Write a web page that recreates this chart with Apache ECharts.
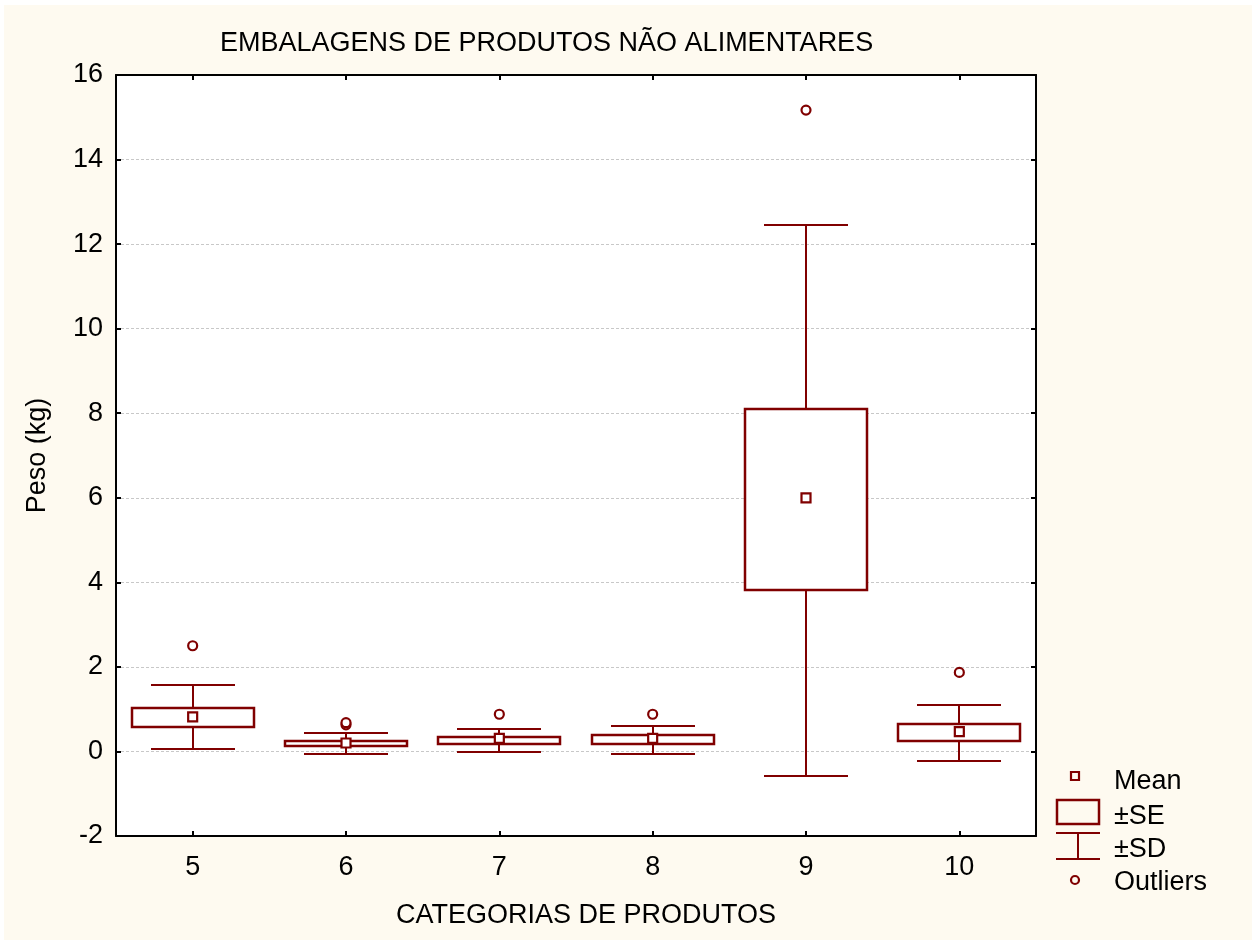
<!DOCTYPE html>
<html>
<head>
<meta charset="utf-8">
<script src="https://cdn.jsdelivr.net/npm/echarts@6/dist/echarts.min.js"></script>
<style>
  html, body { margin: 0; padding: 0; background: #ffffff; }
  #frame { position: absolute; left: 4px; top: 5px; width: 1248px; height: 935px; background: #fefaf0; }
  #chart { position: absolute; left: 0; top: 0; width: 1259px; height: 940px; }
</style>
</head>
<body>
<div id="frame"></div>
<div id="chart"></div>
<script>
// Product categories on the x axis
const categories = ['5', '6', '7', '8', '9', '10'];
// Mean weight per category (kg)
const means  = [0.82, 0.20, 0.31, 0.31, 6.00, 0.47];
// Mean ± standard error
const seLow  = [0.58, 0.13, 0.17, 0.17, 3.81, 0.24];
const seHigh = [1.03, 0.25, 0.34, 0.39, 8.11, 0.64];
// Mean ± standard deviation
const sdLow  = [0.05, -0.07, -0.01, -0.05, -0.57, -0.22];
const sdHigh = [1.57, 0.43, 0.53, 0.61, 12.46, 1.11];
// Outlying observations per category
const outliers = [[2.5], [0.63, 0.68], [0.88], [0.88], [15.17], [1.87]];
// Y axis range and step
const yMin = -2, yMax = 16, yStep = 2;

const RED = '#800000';
const FONT = 'Liberation Sans, Arial, sans-serif';
const FS = 27;

const chart = echarts.init(document.getElementById('chart'), null, { renderer: 'canvas' });

const boxData = categories.map((c, i) => [i, sdLow[i], seLow[i], seHigh[i], sdHigh[i]]);
const meanData = categories.map((c, i) => [i, means[i]]);
const outlierData = [];
outliers.forEach((list, i) => list.forEach(v => outlierData.push([i, v])));

function renderBox(params, api) {
  const idx = api.value(0);
  const cx = Math.round(api.coord([idx, 0])[0]);
  const band = api.size([1, 0])[0];
  const yOf = v => Math.round(api.coord([idx, v])[1]);
  const boxHalf = Math.round(band * 0.395);
  const capHalf = Math.round(band * 0.275);
  const ySdLo = yOf(api.value(1)), ySeLo = yOf(api.value(2));
  const ySeHi = yOf(api.value(3)), ySdHi = yOf(api.value(4));
  const ls = { stroke: RED, lineWidth: 2 };
  return {
    type: 'group',
    children: [
      { type: 'line', shape: { x1: cx, y1: ySdHi, x2: cx, y2: ySeHi }, style: ls },
      { type: 'line', shape: { x1: cx, y1: ySeLo, x2: cx, y2: ySdLo }, style: ls },
      { type: 'line', shape: { x1: cx - capHalf, y1: ySdHi, x2: cx + capHalf, y2: ySdHi }, style: ls },
      { type: 'line', shape: { x1: cx - capHalf, y1: ySdLo, x2: cx + capHalf, y2: ySdLo }, style: ls },
      { type: 'rect', shape: { x: cx - boxHalf, y: ySeHi, width: boxHalf * 2, height: ySeLo - ySeHi },
        style: { stroke: RED, lineWidth: 2.5, fill: '#ffffff' } }
    ]
  };
}

const axisLineStyle = { show: true, onZero: false, lineStyle: { color: '#000', width: 2 } };
const tickStyle = { show: true, inside: true, length: 5, lineStyle: { color: '#000', width: 2 } };

// Legend drawn at fixed positions to the right of the plot
const legendX = 1114;
const legendText = (text, y) => ({
  type: 'text', left: legendX, top: y - 12,
  style: { text: text, fill: '#000', font: FS + 'px ' + FONT }
});

chart.setOption({
  backgroundColor: 'transparent',
  animation: false,
  title: {
    text: 'EMBALAGENS DE PRODUTOS NÃO ALIMENTARES',
    left: 215, top: 25,
    textStyle: { fontFamily: FONT, fontSize: FS, fontWeight: 'normal', color: '#000' }
  },
  grid: {
    left: 116, top: 75, right: 223, bottom: 104,
    show: true, backgroundColor: '#ffffff', borderWidth: 0
  },
  xAxis: [{
    type: 'category', data: categories, position: 'bottom',
    boundaryGap: true,
    axisLine: axisLineStyle,
    axisTick: Object.assign({ alignWithLabel: true }, tickStyle),
    axisLabel: { color: '#000', fontFamily: FONT, fontSize: FS, margin: 18 },
    splitLine: { show: false },
    name: 'CATEGORIAS DE PRODUTOS', nameLocation: 'middle', nameGap: 66,
    nameTextStyle: { color: '#000', fontFamily: FONT, fontSize: FS, padding: [0, 0, 0, 20] }
  }, {
    type: 'category', data: categories, position: 'top',
    boundaryGap: true,
    axisLine: axisLineStyle,
    axisTick: Object.assign({ alignWithLabel: true }, tickStyle),
    axisLabel: { show: false },
    splitLine: { show: false }
  }],
  yAxis: [{
    type: 'value', min: yMin, max: yMax, interval: yStep, position: 'left',
    axisLine: axisLineStyle,
    axisTick: tickStyle,
    axisLabel: { color: '#000', fontFamily: FONT, fontSize: FS, margin: 13 },
    splitLine: { show: true, lineStyle: { color: '#c8c8c8', type: [3, 2], width: 1 } },
    name: 'Peso (kg)', nameLocation: 'middle', nameGap: 65, nameRotate: 90,
    nameTextStyle: { color: '#000', fontFamily: FONT, fontSize: FS }
  }, {
    type: 'value', min: yMin, max: yMax, interval: yStep, position: 'right',
    axisLine: axisLineStyle,
    axisTick: tickStyle,
    axisLabel: { show: false },
    splitLine: { show: false }
  }],
  series: [{
    name: '±SE',
    type: 'custom',
    renderItem: renderBox,
    encode: { x: 0, y: [1, 2, 3, 4] },
    data: boxData,
    z: 2
  }, {
    name: 'Mean',
    type: 'scatter',
    symbol: 'rect', symbolSize: 9,
    itemStyle: { color: '#ffffff', borderColor: RED, borderWidth: 2.2, opacity: 1 },
    data: meanData,
    z: 3
  }, {
    name: 'Outliers',
    type: 'scatter',
    symbol: 'circle', symbolSize: 9,
    itemStyle: { color: '#ffffff', borderColor: RED, borderWidth: 2.2, opacity: 1 },
    data: outlierData,
    z: 3
  }],
  graphic: [
    { type: 'rect', shape: { x: 1071, y: 772, width: 8, height: 8 },
      style: { fill: 'transparent', stroke: RED, lineWidth: 2.2 } },
    legendText('Mean', 780),
    { type: 'rect', shape: { x: 1057, y: 800, width: 42, height: 24 },
      style: { fill: 'transparent', stroke: RED, lineWidth: 2.5 } },
    legendText('±SE', 815),
    { type: 'group', children: [
      { type: 'line', shape: { x1: 1056, y1: 833, x2: 1100, y2: 833 }, style: { stroke: RED, lineWidth: 2 } },
      { type: 'line', shape: { x1: 1056, y1: 859, x2: 1100, y2: 859 }, style: { stroke: RED, lineWidth: 2 } },
      { type: 'line', shape: { x1: 1078, y1: 833, x2: 1078, y2: 859 }, style: { stroke: RED, lineWidth: 2 } }
    ]},
    legendText('±SD', 848),
    { type: 'circle', shape: { cx: 1075, cy: 880, r: 4 },
      style: { fill: 'transparent', stroke: RED, lineWidth: 2.2 } },
    legendText('Outliers', 881)
  ]
});
</script>
</body>
</html>
